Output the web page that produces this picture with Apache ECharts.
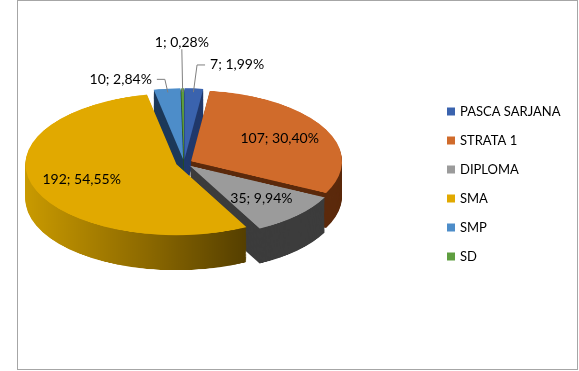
<!DOCTYPE html>
<html><head><meta charset="utf-8">
<script src="https://cdn.jsdelivr.net/npm/echarts@6/dist/echarts.min.js"></script>
<style>
html,body{margin:0;padding:0;background:#fff;}
#wrap{position:relative;width:579px;height:371px;overflow:hidden;background:#fff;}
#frame{position:absolute;left:17px;top:0;width:559px;height:368px;border:1px solid #a6a6a6;}
#pie{position:absolute;left:0;top:0;width:579px;height:790px;transform:scaleY(0.47);transform-origin:0 0;}
#over{position:absolute;left:0;top:0;width:579px;height:371px;}
</style></head><body>
<div id="wrap"><div id="frame"></div><div id="pie"></div><div id="over"></div></div>
<script>
// ---- data ----
const categories = ['PASCA SARJANA', 'STRATA 1', 'DIPLOMA', 'SMA', 'SMP', 'SD'];
const values = [7, 107, 35, 192, 10, 1];
const topColors = ['#3A63AE', '#D06B2B', '#9B9B9B', '#E1A900', '#4D8DC9', '#5F9E40'];
const sideColors = ['#203A6C', '#5C2A0C', '#3C3C3C',
  {type: 'linear', x: 0, y: 0, x2: 1, y2: 0, colorStops: [
    {offset: 0, color: '#C99A00'}, {offset: 0.55, color: '#8C6900'}, {offset: 1, color: '#553F00'}]},
  '#1E3A5A', '#2E5520'];

// ---- geometry (3D look) ----
const K = 0.47;          // vertical squash of the pie
const CX = 184, CY = 163, R = 151;
const DEPTH = 35;        // px on screen
const LAYERS = 36;
const EXPLODE = 8;
const FONT = 'Lato, "Open Sans", sans-serif';

// ---- pie body (squashed with css) ----
const pieChart = echarts.init(document.getElementById('pie'), null, {renderer: 'canvas'});
function pieLayer(cy, colors) {
  return {
    type: 'pie', center: [CX, cy], radius: R, startAngle: 90, clockwise: true,
    selectedMode: 'multiple', selectedOffset: EXPLODE, silent: true,
    emphasis: {disabled: true}, label: {show: false}, labelLine: {show: false},
    data: categories.map((c, i) => ({name: c, value: values[i], selected: true,
      itemStyle: {color: colors[i], borderWidth: 0}}))
  };
}
const baseY = CY / K;
const step = (DEPTH / K) / LAYERS;
const layers = [];
for (let j = LAYERS; j >= 1; j--) layers.push(pieLayer(baseY + j * step, sideColors));
layers.push(pieLayer(baseY, topColors));
pieChart.setOption({animation: false, series: layers});

// ---- labels and legend (not squashed) ----
const over = echarts.init(document.getElementById('over'), null, {renderer: 'canvas'});
const total = values.reduce((a, b) => a + b, 0);
const ty = y => CY + (y - CY) * K;
over.setOption({
  animation: false,
  legend: {
    orient: 'vertical', left: 442, top: 100, itemWidth: 8, itemHeight: 8, itemGap: 16,
    icon: 'rect', selectedMode: false,
    textStyle: {fontFamily: FONT, fontSize: 13, color: '#000', lineHeight: 13},
    data: categories.map((c, i) => ({name: c, itemStyle: {color: topColors[i], opacity: 1}}))
  },
  series: [{
    type: 'pie', center: [CX, CY], radius: [60, R], startAngle: 90, clockwise: true,
    silent: true, avoidLabelOverlap: false, emphasis: {disabled: true},
    itemStyle: {color: 'rgba(0,0,0,0)'},
    label: {
      color: '#000', fontFamily: FONT, fontSize: 14,
      formatter: p => p.value + '; ' + p.percent.toFixed(2).replace('.', ',') + '%'
    },
    labelLine: {lineStyle: {color: '#7f7f7f', width: 1, opacity: 1}},
    labelLayout: function (p) {
      const lr = p.labelRect;
      const share = values[p.dataIndex] / total;
      const out = {x: lr.x + lr.width / 2, y: ty(lr.y + lr.height / 2), align: 'center', verticalAlign: 'middle'};
      if (share < 0.05 && p.labelLinePoints) {
        const pts = p.labelLinePoints.map(pt => [pt[0], ty(pt[1])]);
        out.labelLinePoints = pts;
        if (share < 0.01) {
          const e = pts[pts.length - 1];
          out.x = e[0];
          out.y = e[1] - lr.height / 2;
        }
      }
      return out;
    },
    data: categories.map((c, i) => {
      const share = values[i] / total;
      const item = {name: c, value: values[i]};
      if (share < 0.01) {
        item.label = {position: 'outside'};
        item.labelLine = {show: true, length: 91, length2: 0};
      } else if (share < 0.05) {
        item.label = {position: 'outside'};
        item.labelLine = {show: true, length: i === 0 ? 58 : 28, length2: 8};
      } else {
        item.label = {position: 'inside'};
        item.labelLine = {show: false};
      }
      return item;
    })
  }]
});
</script>
</body></html>
